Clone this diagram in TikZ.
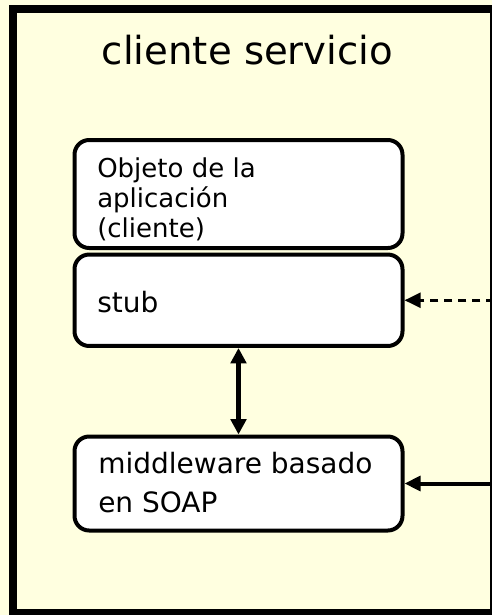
\documentclass[tikz,border=0pt]{standalone}
\usepackage{fontspec}
\setmainfont{DejaVu Sans}
\usetikzlibrary{arrows.meta}
\definecolor{bgyellow}{RGB}{255,255,224}
\tikzset{
  sidetip/.tip={Triangle[length=12pt, width=11pt]},
  vtip/.tip={Triangle[length=11.5pt, width=11.5pt]}
}
\begin{document}
\begin{tikzpicture}[x=0.75pt,y=-0.75pt,
  framestyle/.style={draw=black, line width=6pt, rectangle, inner sep=0pt, outer sep=0pt,
    minimum width=361.1pt, minimum height=453pt},
  boxstyle/.style={draw=black, fill=white, line width=3pt, rounded corners=11pt,
    rectangle, inner sep=0pt, minimum width=246pt},
  boxtext/.style={inner sep=0pt, anchor=base west, align=left},
  titlestyle/.style={inner sep=0pt, anchor=base, font=\fontsize{29pt}{34pt}\selectfont}
]
\useasboundingbox (0,0) rectangle (492,615);
\fill[bgyellow] (0,0) rectangle (492,615);
\clip (0,0) rectangle (492,615);

\node[framestyle] (frame) at (253.75,311) {};
\node[titlestyle] (title) at (247.5,64) {cliente servicio};

\node[boxstyle, minimum height=81pt] (obj) at (238.5,194) {};
\node[boxstyle, minimum height=68.6pt] (stub) at (238.5,300.25) {};
\node[boxstyle, minimum height=70.5pt] (mw) at (238.5,483.5) {};

% base anchor of a multi-line node is the baseline of its last line
\node[boxtext, font=\fontsize{19.5pt}{22.5pt}\selectfont] (objtxt) at (97,237)
  {Objeto de la\\aplicación\\(cliente)};
\node[boxtext, font=\fontsize{21pt}{29pt}\selectfont] (stubtxt) at (97,312) {stub};
\node[boxtext, font=\fontsize{21pt}{29.25pt}\selectfont] (mwtxt) at (98,512)
  {middleware basado\\en SOAP};

\draw[line width=3.5pt, vtip-vtip] (stub.south) -- (mw.north);
\draw[line width=2.25pt, dash pattern=on 6pt off 4.5pt, -sidetip]
  (frame.east |- stub.east) -- (stub.east);
\draw[line width=3pt, -sidetip]
  (frame.east |- mw.east) -- (mw.east);
\end{tikzpicture}
\end{document}
